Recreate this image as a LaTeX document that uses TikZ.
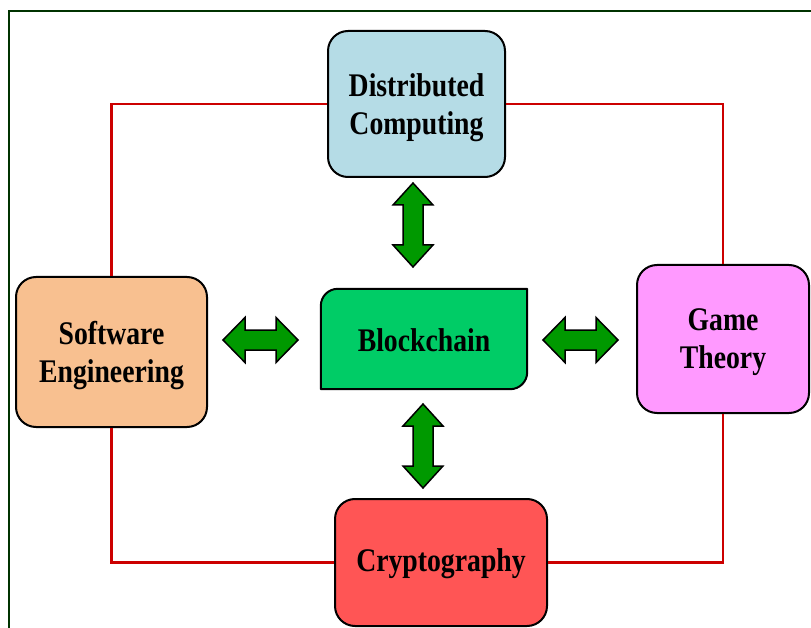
\documentclass[tikz,border=0pt]{standalone}
\usepackage{fontspec}
\setmainfont{Liberation Serif}[FakeStretch=0.84]
\definecolor{dcblue}{RGB}{181,220,230}
\definecolor{sepeach}{RGB}{248,192,144}
\definecolor{gtpink}{RGB}{255,153,255}
\definecolor{crred}{RGB}{255,85,85}
\definecolor{bcgreen}{RGB}{0,204,102}
\definecolor{arrgreen}{RGB}{0,153,0}
\definecolor{linkred}{RGB}{204,0,0}
\definecolor{framegreen}{RGB}{0,51,0}
\tikzset{
  topic/.style={draw=black, line width=2pt, rounded corners=20pt, inner sep=0pt},
  lbl/.style={inner sep=0pt, align=center, font=\fontsize{33}{38}\selectfont\bfseries},
  link/.style={draw=linkred, line width=2.5pt},
  pics/twohead/.style n args={2}{code={
    \draw[fill=arrgreen, draw=black, line width=1.5pt, line join=miter]
      (-#1,0) -- (-#1+22,#2) -- (-#1+22,10) -- (#1-22,10) -- (#1-22,#2) -- (#1,0)
      -- (#1-22,-#2) -- (#1-22,-10) -- (-#1+22,-10) -- (-#1+22,-#2) -- cycle;
  }}
}
\begin{document}
\begin{tikzpicture}[x=1pt, y=-1pt]
\useasboundingbox (0,0) rectangle (811,628);
% outer frame
\draw[framegreen, line width=1.5pt] (811,11) -- (9,11) -- (9,628);

% topic boxes
\node[topic, fill=dcblue, minimum width=177pt, minimum height=146pt] (dc) at (416.5,104) {};
\node[topic, fill=sepeach, minimum width=191pt, minimum height=150pt] (se) at (111.5,352) {};
\node[topic, fill=gtpink, minimum width=172pt, minimum height=148pt] (gt) at (723,339) {};
\node[topic, fill=crred, minimum width=212pt, minimum height=127pt] (cr) at (441,562.5) {};

\node[lbl] (dctext) at ([yshift=-4pt]dc.center) {Distributed\\Computing};
\node[lbl] (setext) at ([yshift=-3.5pt]se.center) {Software\\Engineering};
\node[lbl] (gttext) at ([yshift=-3.5pt]gt.center) {Game\\Theory};
\node[lbl] (crtext) at ([yshift=-1pt]cr.center) {Cryptography};

% red links between the outer topics
\draw[link] (dc.west) -| (se.north);
\draw[link] (se.south) |- (cr.west);
\draw[link] (cr.east) -| (gt.south);
\draw[link] (gt.north) |- (dc.east);

% central block with two rounded corners
\node[inner sep=0pt, minimum width=206pt, minimum height=100pt] (bc) at (424,339) {};
\draw[fill=bcgreen, draw=black, line width=2pt, line join=round]
  (bc.south west) -- ([yshift=-17pt]bc.north west)
  .. controls ([yshift=-7.6pt]bc.north west) and ([xshift=7.6pt]bc.north west)
  .. ([xshift=17pt]bc.north west)
  -- (bc.north east) -- ([yshift=17pt]bc.south east)
  .. controls ([yshift=7.6pt]bc.south east) and ([xshift=-7.6pt]bc.south east)
  .. ([xshift=-17pt]bc.south east)
  -- cycle;
\node[lbl] (bctext) at ([yshift=-1pt]bc.center) {Blockchain};

% double-headed arrows
\pic (adc) at (413,225) [rotate=90] {twohead={42}{20}};
\pic (acr) at (423,446) [rotate=90] {twohead={42}{20}};
\pic (ase) at (260.5,340) {twohead={37.5}{22.5}};
\pic (agt) at (580.5,340) {twohead={37.5}{22.5}};
\end{tikzpicture}
\end{document}
